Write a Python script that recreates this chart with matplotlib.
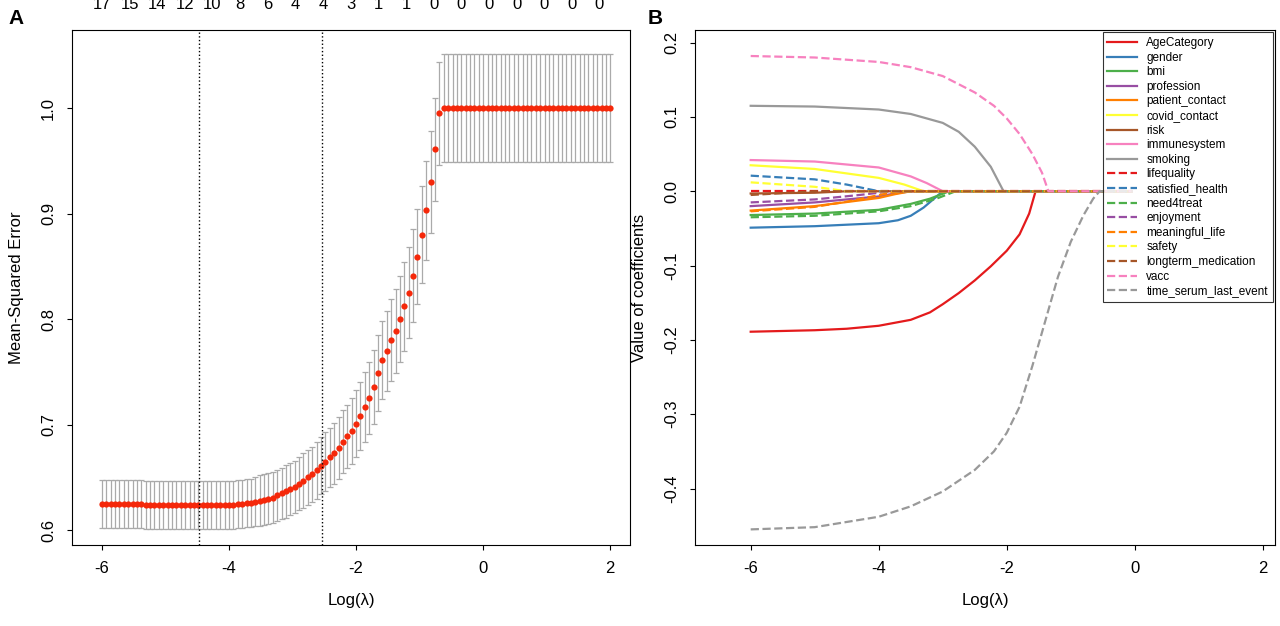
import numpy as np
import matplotlib
matplotlib.use("Agg")
import matplotlib.pyplot as plt

plt.rcParams['font.family'] = ['Liberation Sans', 'DejaVu Sans']
plt.rcParams['axes.unicode_minus'] = False

# ---------------- Panel A data ----------------
mse = [0.625]*10 + [0.624]*20 + [0.624, 0.625, 0.625, 0.626, 0.626, 0.627, 0.628, 0.629, 0.630, 0.631,
       0.633, 0.635, 0.637, 0.639, 0.641, 0.644, 0.647, 0.650, 0.653,
       0.657, 0.661, 0.665, 0.669, 0.673, 0.678, 0.684, 0.689, 0.694, 0.701,
       0.708, 0.717, 0.725, 0.736, 0.749, 0.761, 0.770, 0.780, 0.789, 0.800,
       0.812, 0.825, 0.841, 0.859, 0.880, 0.903, 0.930, 0.961, 0.995] + [1.0]*39
se = [0.023]*30 + [0.023, 0.023, 0.023, 0.023, 0.023, 0.023, 0.024, 0.024, 0.024, 0.024,
      0.024, 0.024, 0.025, 0.025, 0.025, 0.025, 0.026, 0.026, 0.026,
      0.027, 0.027, 0.028, 0.028, 0.029, 0.029, 0.030, 0.030, 0.031, 0.032,
      0.032, 0.033, 0.034, 0.035, 0.036, 0.037, 0.038, 0.039, 0.040, 0.041,
      0.042, 0.043, 0.044, 0.045, 0.046, 0.047, 0.048, 0.049, 0.049] + [0.051]*39
lambda_min = -4.47
lambda_1se = -2.54
nonzero = [17, 15, 14, 12, 10, 8, 6, 4, 4, 3, 1, 1, 0, 0, 0, 0, 0, 0, 0]

# ---------------- Panel B data ----------------
names = ["AgeCategory", "gender", "bmi", "profession", "patient_contact", "covid_contact",
         "risk", "immunesystem", "smoking", "lifequality", "satisfied_health", "need4treat",
         "enjoyment", "meaningful_life", "safety", "longterm_medication", "vacc",
         "time_serum_last_event"]
paths_x = [
    [-6, -5, -4.5, -4, -3.5, -3.2, -3, -2.75, -2.5, -2.25, -2, -1.8, -1.65, -1.55, -0.05],
    [-6, -5, -4, -3.7, -3.5, -3.3, -3.0, -0.05],
    [-6, -5, -4, -3.5, -3.2, -2.9, -0.05],
    [-6, -5, -4, -3.75, -3.5, -0.05],
    [-6, -5, -4, -3.75, -3.5, -0.05],
    [-6, -5, -4, -3.6, -3.3, -0.05],
    [-6, -5, -4.5, -0.05],
    [-6, -5, -4, -3.5, -3.25, -3.0, -0.05],
    [-6, -5, -4, -3.5, -3, -2.75, -2.5, -2.25, -2.05, -0.05],
    [-6, -0.05],
    [-6, -5, -4.5, -4.0, -0.05],
    [-6, -5, -4, -3.5, -3.1, -2.8, -0.05],
    [-6, -5, -4.3, -3.8, -0.05],
    [-6, -5, -4.5, -4.1, -3.7, -0.05],
    [-6, -5, -4.5, -0.05],
    [-6, -5, -0.05],
    [-6, -5, -4, -3.5, -3, -2.5, -2.2, -2, -1.8, -1.6, -1.45, -1.35, -0.05],
    [-6, -5, -4, -3.5, -3, -2.5, -2.2, -2, -1.8, -1.6, -1.4, -1.2, -1.0, -0.8, -0.65, -0.55, -0.05],
]
paths_y = [
    [-0.189, -0.187, -0.185, -0.181, -0.173, -0.163, -0.152, -0.137, -0.120, -0.101, -0.080, -0.058, -0.030, 0.0, 0.0],
    [-0.049, -0.047, -0.043, -0.039, -0.033, -0.022, 0.0, 0.0],
    [-0.032, -0.030, -0.025, -0.017, -0.010, 0.0, 0.0],
    [-0.020, -0.015, -0.007, -0.003, 0.0, 0.0],
    [-0.026, -0.020, -0.009, -0.004, 0.0, 0.0],
    [0.035, 0.030, 0.018, 0.009, 0.0, 0.0],
    [-0.003, -0.002, 0.0, 0.0],
    [0.042, 0.040, 0.032, 0.020, 0.011, 0.0, 0.0],
    [0.115, 0.114, 0.110, 0.104, 0.092, 0.080, 0.060, 0.033, 0.0, 0.0],
    [0.0, 0.0],
    [0.021, 0.016, 0.009, 0.0, 0.0],
    [-0.035, -0.033, -0.027, -0.020, -0.010, 0.0, 0.0],
    [-0.015, -0.011, -0.005, 0.0, 0.0],
    [-0.027, -0.021, -0.014, -0.007, 0.0, 0.0],
    [0.012, 0.006, 0.0, 0.0],
    [-0.005, 0.0, 0.0],
    [0.182, 0.180, 0.174, 0.167, 0.155, 0.133, 0.115, 0.098, 0.077, 0.050, 0.025, 0.0, 0.0],
    [-0.455, -0.452, -0.438, -0.424, -0.404, -0.375, -0.350, -0.325, -0.290, -0.235, -0.175, -0.115, -0.068, -0.032, -0.010, 0.0, 0.0],
]
palette = ["#E41A1C", "#377EB8", "#4DAF4A", "#984EA3", "#FF7F00", "#FFFF33", "#A65628",
           "#F781BF", "#999999"]

fig = plt.figure(figsize=(12.8, 6.26), dpi=100)

# ---- Panel A ----
ax = fig.add_axes([72/1280, 1-545/626, 558/1280, 515/626])
x = np.linspace(-6, 2, len(mse))
ax.errorbar(x, mse, yerr=se, fmt='none', ecolor='#AAAAAA', elinewidth=0.9, capsize=2, capthick=0.9)
ax.plot(x, mse, 'o', color='#F5280A', ms=4.5, mec='none')
ax.axvline(lambda_min, color='black', ls=':', lw=1)
ax.axvline(lambda_1se, color='black', ls=':', lw=1)
ax.set_xlim(-6.47, 2.31)
ax.set_ylim(0.586, 1.074)
ax.set_xticks([-6, -4, -2, 0, 2])
ax.set_yticks([0.6, 0.7, 0.8, 0.9, 1.0])
ax.set_yticklabels(["0.6", "0.7", "0.8", "0.9", "1.0"], rotation=90, va='center')
ax.set_xlabel("Log(λ)", fontsize=12, labelpad=12)
ax.set_ylabel("Mean-Squared Error", fontsize=12, labelpad=12)
ax.tick_params(labelsize=12, pad=8)
for xp, n in zip(np.linspace(-6, 1.83, len(nonzero)), nonzero):
    ax.text(xp, 1.035, str(n), transform=ax.get_xaxis_transform(), ha='center', va='bottom',
            fontsize=12)

# ---- Panel B ----
bx = fig.add_axes([695/1280, 1-545/626, 580/1280, 515/626])
for i, (nm, px, py) in enumerate(zip(names, paths_x, paths_y)):
    ls = '-' if i < 9 else '--'
    bx.plot(px, py, color=palette[i % 9], ls=ls, lw=1.6, label=nm)
bx.set_xlim(-6.87, 2.19)
bx.set_ylim(-0.476, 0.217)
bx.set_xticks([-6, -4, -2, 0, 2])
bx.set_yticks([-0.4, -0.3, -0.2, -0.1, 0.0, 0.1, 0.2])
bx.set_yticklabels(["-0.4", "-0.3", "-0.2", "-0.1", "0.0", "0.1", "0.2"], rotation=90, va='center')
bx.set_xlabel("Log(λ)", fontsize=12, labelpad=12)
bx.set_ylabel("Value of coefficients", fontsize=12, labelpad=12)
bx.tick_params(labelsize=12, pad=8)
leg = bx.legend(loc='upper right', fontsize=8.5, frameon=True, fancybox=False, edgecolor='black',
                borderaxespad=0.2, handlelength=2.5, labelspacing=0.22)
leg.get_frame().set_linewidth(0.8)

fig.text(8/1280, 1-18/626, "A", fontsize=15, fontweight='bold', va='center')
fig.text(648/1280, 1-18/626, "B", fontsize=15, fontweight='bold', va='center')

fig.savefig("out.png", dpi=100)
